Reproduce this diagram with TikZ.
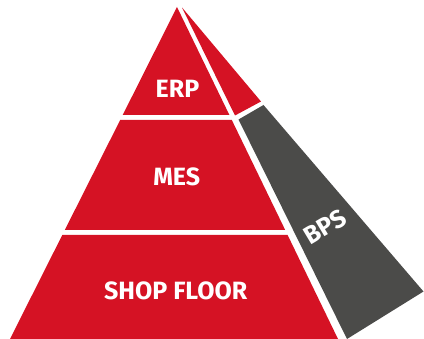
\documentclass[tikz,border=0pt]{standalone}
\usepackage{fontspec}
\setmainfont{Fira Sans}
\definecolor{pyrred}{RGB}{213,18,36}
\definecolor{pyrgrey}{RGB}{75,75,73}

\begin{document}
\begin{tikzpicture}[x=1pt, y=-1pt,
    layertext/.style={text=white, font=\fontsize{25}{25}\selectfont\bfseries}]
    \useasboundingbox (0,0) rectangle (424,339);
    % Vorderseite:
    \fill[pyrred] (177,7) -- (229.4,115) -- (122.7,115) -- cycle; % ERP
    \fill[pyrred] (120.2,120) -- (231.8,120) -- (285.2,230) -- (64.8,230) -- cycle; % MES
    \fill[pyrred] (62.3,235) -- (287.6,235) -- (338,339) -- (10,339) -- cycle; % SHOP FLOOR
    % Seitenflaeche:
    \fill[pyrred] (182,7.5) -- (261,101.5) -- (235,115.5) -- cycle; % oben
    \fill[pyrgrey] (238.5,119.5) -- (263.5,105) -- (423.5,291.5) -- (347,339) -- cycle; % BPS
    % Beschriftung:
    \node[layertext] (erp) at (177.5,89) {ERP};
    \node[layertext] (mes) at (176.7,177) {MES};
    \node[layertext] (shopfloor) at (175.7,290.5) {SHOP FLOOR};
    \node[layertext, rotate=31] (bps) at (325,227) {BPS};
\end{tikzpicture}
\end{document}
